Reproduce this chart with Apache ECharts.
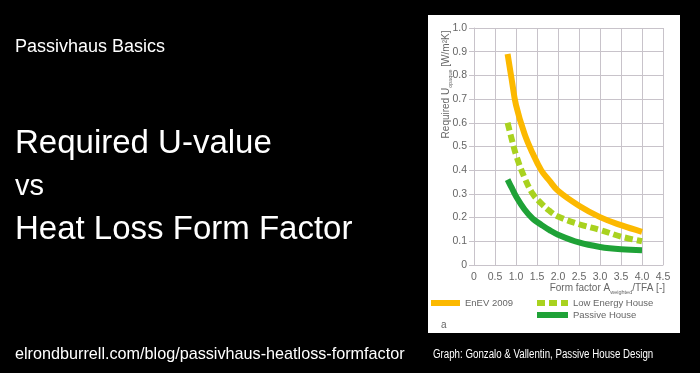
<!DOCTYPE html>
<html><head><meta charset="utf-8">
<style>html,body{margin:0;padding:0;background:#000;}#c{width:700px;height:373px;}</style>
<script src="https://cdn.jsdelivr.net/npm/echarts@6.0.0/dist/echarts.min.js"></script>
</head><body><div id="c"></div>
<script>
// ---- data ----
const formFactor = [0.8, 0.9, 1.0, 1.2, 1.4, 1.6, 1.8, 2.0, 2.5, 3.0, 3.5, 4.0];
const enev2009   = [0.89, 0.78, 0.675, 0.555, 0.47, 0.40, 0.355, 0.313, 0.25, 0.202, 0.168, 0.14];
const lowEnergy  = [0.60, 0.53, 0.465, 0.37, 0.30, 0.26, 0.228, 0.205, 0.172, 0.148, 0.12, 0.10];
const passive    = [0.36, 0.325, 0.29, 0.235, 0.195, 0.17, 0.147, 0.128, 0.095, 0.076, 0.066, 0.062];
const seriesNames = ['EnEV 2009', 'Low Energy House', 'Passive House'];
const xTickLabels = ['0', '0.5', '1.0', '1.5', '2.0', '2.5', '3.0', '3.5', '4.0', '4.5'];
const yTickLabels = ['0', '0.1', '0.2', '0.3', '0.4', '0.5', '0.6', '0.7', '0.8', '0.9', '1.0'];

const sans = "'Liberation Sans',Arial,Helvetica,sans-serif";
const grey = '#666';
const gridCol = '#c8c3ca';

const chart = echarts.init(document.getElementById('c'), null, {renderer: 'canvas'});
const pairs = arr => formFactor.map((x, i) => [x, arr[i]]);

chart.setOption({
  backgroundColor: '#000',
  animation: false,
  grid: {left: 474, right: 37, top: 28, bottom: 108},
  xAxis: {
    type: 'value', min: 0, max: 4.5, interval: 0.5,
    axisLine: {show: true, lineStyle: {color: gridCol}},
    axisTick: {show: false},
    axisLabel: {margin: 7, color: grey, fontSize: 10.5, fontFamily: sans,
      formatter: v => xTickLabels[Math.round(v / 0.5)]},
    splitLine: {show: true, lineStyle: {color: gridCol}},
    name: '{a|Form factor A}{s|weighted}{a|/TFA [-]}',
    nameLocation: 'end', nameGap: 2, nameMoveOverlap: false,
    nameTextStyle: {align: 'right', verticalAlign: 'top', padding: [17, 0, 0, 0],
      rich: {a: {fontSize: 10, color: grey, fontFamily: sans, lineHeight: 13},
             s: {fontSize: 5.5, color: grey, fontFamily: sans, verticalAlign: 'bottom', lineHeight: 13}}}
  },
  yAxis: {
    type: 'value', min: 0, max: 1, interval: 0.1,
    axisLine: {show: true, lineStyle: {color: gridCol}},
    axisTick: {show: true, length: 5, lineStyle: {color: gridCol}},
    axisLabel: {margin: 7, color: grey, fontSize: 10.5, fontFamily: sans,
      formatter: v => yTickLabels[Math.round(v * 10)]},
    splitLine: {show: true, lineStyle: {color: gridCol}},
    name: '{a|Required U}{s|opaque}{a| [W/m²K]}',
    nameLocation: 'middle', nameGap: 21, nameRotate: 90, nameMoveOverlap: false,
    nameTextStyle: {padding: [0, 0, 0, 124],
      rich: {a: {fontSize: 10, color: grey, fontFamily: sans, lineHeight: 13},
             s: {fontSize: 5.5, color: grey, fontFamily: sans, verticalAlign: 'bottom', lineHeight: 13}}}
  },
  legend: [
    {data: [seriesNames[0]], left: 428, top: 297, padding: 0, itemWidth: 29, itemHeight: 6,
     lineStyle: {width: 6}, textStyle: {fontSize: 9.5, lineHeight: 12, color: grey, fontFamily: sans}},
    {data: [seriesNames[1], seriesNames[2]], orient: 'vertical', left: 534, top: 297, padding: 0,
     itemWidth: 31, itemHeight: 6, itemGap: 0,
     lineStyle: {width: 6}, textStyle: {fontSize: 9.5, lineHeight: 12, color: grey, fontFamily: sans}}
  ],
  series: [
    {name: seriesNames[0], type: 'line', data: pairs(enev2009), smooth: 0.4, symbol: 'none',
     lineStyle: {color: '#fcb900', width: 6, cap: 'butt'}, itemStyle: {color: '#fcb900'}},
    {name: seriesNames[1], type: 'line', data: pairs(lowEnergy), smooth: 0.4, symbol: 'none',
     lineStyle: {color: '#a9d21f', width: 6, type: [8, 4], cap: 'butt'}, itemStyle: {color: '#a9d21f'}},
    {name: seriesNames[2], type: 'line', data: pairs(passive), smooth: 0.4, symbol: 'none',
     lineStyle: {color: '#1fa237', width: 6, cap: 'butt'}, itemStyle: {color: '#1fa237'}}
  ],
  graphic: {elements: [
    {type: 'rect', z: -10, silent: true, shape: {x: 428, y: 15, width: 252, height: 318}, style: {fill: '#fff'}},
    {type: 'text', x: 441, y: 325, style: {text: 'a', fill: grey, fontSize: 10, fontFamily: sans, verticalAlign: 'middle'}},
    {type: 'text', x: 15, y: 47, style: {text: 'Passivhaus Basics', fill: '#fff', fontSize: 18, fontFamily: sans, verticalAlign: 'middle'}},
    {type: 'text', x: 15, y: 143.6, style: {text: 'Required U-value', fill: '#fff', fontSize: 33, fontFamily: sans, verticalAlign: 'middle'}},
    {type: 'text', x: 15, y: 187, style: {text: 'vs', fill: '#fff', fontSize: 29, fontFamily: sans, verticalAlign: 'middle'}},
    {type: 'text', x: 15, y: 230.3, style: {text: 'Heat Loss Form Factor', fill: '#fff', fontSize: 33, fontFamily: sans, verticalAlign: 'middle'}},
    {type: 'text', x: 15, y: 354.5, style: {text: 'elrondburrell.com/blog/passivhaus-heatloss-formfactor', fill: '#fff', fontSize: 16.2, fontFamily: sans, verticalAlign: 'middle'}},
    {type: 'text', x: 433, y: 355, scaleX: 0.81, style: {text: 'Graph: Gonzalo & Vallentin, Passive House Design', fill: '#fff', fontSize: 12, fontFamily: sans, verticalAlign: 'middle'}}
  ]}
});
</script></body></html>
